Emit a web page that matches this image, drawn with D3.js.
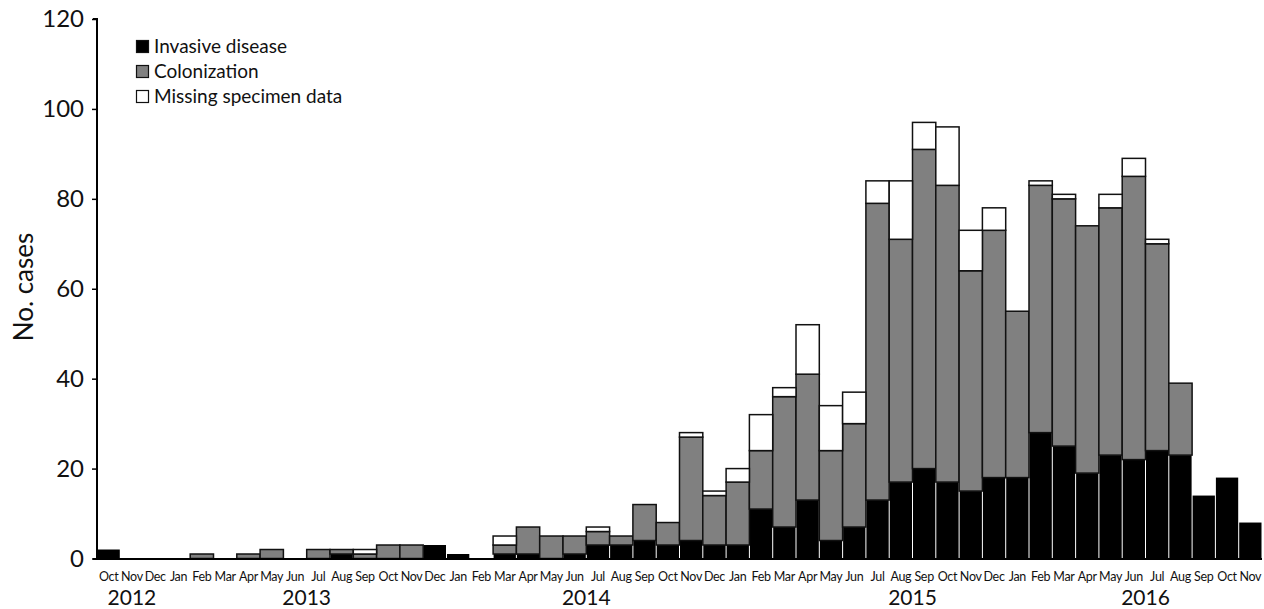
<!DOCTYPE html>
<html>
<head>
<meta charset="utf-8">
<script src="https://cdn.jsdelivr.net/npm/d3@7"></script>
<style>
  body { margin: 0; background: #fff; }
  svg { display: block; font-family: Lato, "Open Sans", sans-serif; }
</style>
</head>
<body>
<svg id="chart" width="1264" height="609"></svg>
<script>
// month labels, Oct 2012 .. Nov 2016
var months = ["Oct","Nov","Dec",
  "Jan","Feb","Mar","Apr","May","Jun","Jul","Aug","Sep","Oct","Nov","Dec",
  "Jan","Feb","Mar","Apr","May","Jun","Jul","Aug","Sep","Oct","Nov","Dec",
  "Jan","Feb","Mar","Apr","May","Jun","Jul","Aug","Sep","Oct","Nov","Dec",
  "Jan","Feb","Mar","Apr","May","Jun","Jul","Aug","Sep","Oct","Nov"];

var invasive = [2,0,0,
  0,0,0,0,0,0,0,1,0,0,0,3,
  1,0,1,1,0,1,3,3,4,3,4,3,
  3,11,7,13,4,7,13,17,20,17,15,18,
  18,28,25,19,23,22,24,23,14,18,8];

var colonization = [0,0,0,
  0,1,0,1,2,0,2,1,1,3,3,0,
  0,0,2,6,5,4,3,2,8,5,23,11,
  14,13,29,28,20,23,66,54,71,66,49,55,
  37,55,55,55,55,63,46,16,0,0,0];

var missing = [0,0,0,
  0,0,0,0,0,0,0,0,1,0,0,0,
  0,0,2,0,0,0,1,0,0,0,1,1,
  3,8,2,11,10,7,5,13,6,13,9,5,
  0,1,1,0,3,4,1,0,0,0,0];

var seriesNames = ["Invasive disease", "Colonization", "Missing specimen data"];
var seriesColors = ["#000000", "#808080", "#ffffff"];

var yTicks = [0, 20, 40, 60, 80, 100, 120];
// year label and the month (index) it sits at
var yearLabels = ["2012", "2013", "2014", "2015", "2016"];
var yearAt = [1, 9, 21, 35, 45];

var svg = d3.select("#chart");
var pLeft = 97, pRight = 1262, pTop = 19, pBottom = 558.5;

var keys = months.map(function (m, i) { return i; });
var x = d3.scaleBand().domain(keys).range([pLeft, pRight]).padding(0);
var y = d3.scaleLinear().domain([0, 120]).range([pBottom, pTop]);

var rows = keys.map(function (i) {
  return { i: i, inv: invasive[i], col: colonization[i], miss: missing[i] };
});
var stack = d3.stack().keys(["inv", "col", "miss"]);
var layers = stack(rows);

var bw = x.bandwidth();
layers.forEach(function (layer, li) {
  svg.append("g").selectAll("rect")
    .data(layer.filter(function (d) { return d[1] - d[0] > 0; }))
    .enter().append("rect")
    .attr("x", function (d) { return li === 0 ? x(d.data.i) + 0.5 : x(d.data.i); })
    .attr("width", li === 0 ? bw - 1 : bw)
    .attr("y", function (d) { return y(d[1]); })
    .attr("height", function (d) { return y(d[0]) - y(d[1]); })
    .attr("fill", seriesColors[li])
    .attr("stroke", li === 0 ? "none" : "#111")
    .attr("stroke-width", 1.5);
});

// y axis
var yAxis = d3.axisLeft(y).tickValues(yTicks).tickSize(5).tickPadding(8);
var gy = svg.append("g").attr("transform", "translate(" + pLeft + ",0)").call(yAxis);
gy.select(".domain").attr("stroke", "#000").attr("stroke-width", 2).attr("d", "M-4," + pTop + "H0V" + pBottom);
gy.selectAll(".tick line").attr("stroke", "#000").attr("stroke-width", 1.5);
gy.selectAll("text").attr("font-size", 24).attr("fill", "#111").attr("font-family", "Lato, sans-serif");

// x baseline
svg.append("line")
  .attr("x1", pLeft - 4).attr("x2", pRight)
  .attr("y1", pBottom + 0.5).attr("y2", pBottom + 0.5)
  .attr("stroke", "#000").attr("stroke-width", 2);

// month labels
var xAxis = d3.axisBottom(x).tickSize(0).tickPadding(14)
  .tickFormat(function (i) { return months[i]; });
var gx = svg.append("g").attr("transform", "translate(0," + pBottom + ")").call(xAxis);
gx.select(".domain").remove();
gx.selectAll("text").attr("font-size", 12.5).attr("fill", "#111")
  .attr("letter-spacing", -0.3).attr("font-family", "Lato, sans-serif");

// year labels
svg.append("g").selectAll("text")
  .data(yearLabels).enter().append("text")
  .attr("x", function (d, k) { return k === 0 ? x(yearAt[k]) + bw / 2 : x(yearAt[k]); })
  .attr("y", 605)
  .attr("text-anchor", "middle")
  .attr("font-size", 21)
  .attr("fill", "#111")
  .text(function (d) { return d; });

// y title
svg.append("text")
  .attr("transform", "translate(33,287) rotate(-90)")
  .attr("text-anchor", "middle")
  .attr("font-size", 26)
  .attr("fill", "#111")
  .text("No. cases");

// legend
var lg = svg.append("g").attr("transform", "translate(136,40)");
seriesNames.forEach(function (name, k) {
  var row = lg.append("g").attr("transform", "translate(0," + (k * 25) + ")");
  row.append("rect").attr("x", 0.5).attr("y", 0.5).attr("width", 12).attr("height", 12)
    .attr("fill", seriesColors[k]).attr("stroke", "#111").attr("stroke-width", 1.2);
  row.append("text").attr("x", 18).attr("y", 13)
    .attr("font-size", 19).attr("fill", "#111").text(name);
});
</script>
</body>
</html>
